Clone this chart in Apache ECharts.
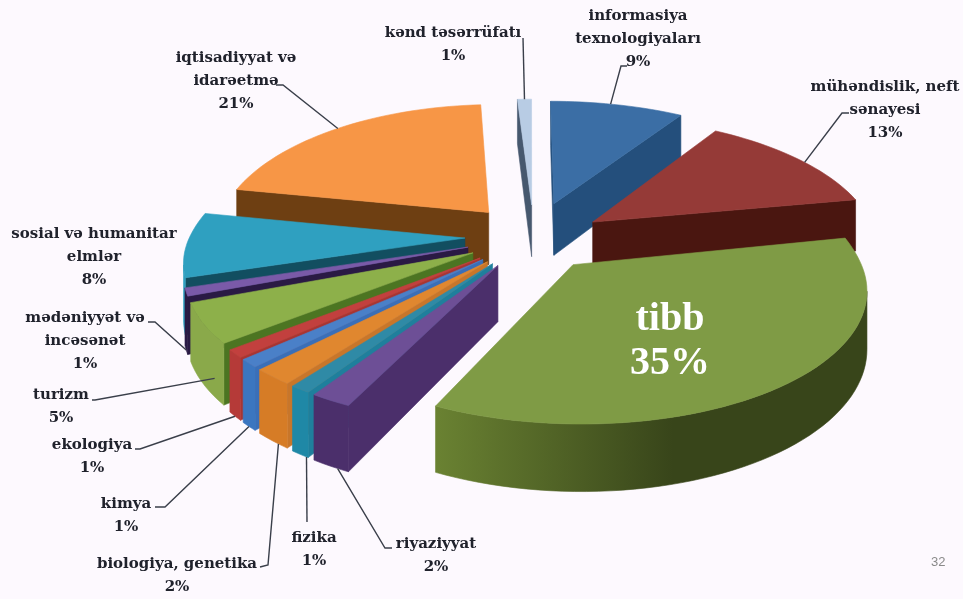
<!DOCTYPE html>
<html><head><meta charset="utf-8">
<style>html,body{margin:0;padding:0;background:#fdf9fe}#c{width:963px;height:599px}</style>
<script src="https://cdn.jsdelivr.net/npm/echarts@6/dist/echarts.min.js"></script>
</head><body><div id="c"></div>
<script>
const categories = ["informasiya\ntexnologiyaları","mühəndislik, neft\nsənayesi","tibb","riyaziyyat","fizika","biologiya, genetika","kimya","ekologiya","turizm","mədəniyyət və\nincəsənət","sosial və humanitar\nelmlər","iqtisadiyyat və\nidarəetmə","kənd təsərrüfatı"];
const values = [9,13,35,2,1,2,1,1,5,1,8,21,1];
const topColors = ["#3b6ea5","#953a37","#7f9b45","#6d4f96","#2f8aa6","#e0872f","#4a80c8","#c2403e","#8db04a","#7a5aa8","#2fa0c0","#f79646","#b8cce4"];
const radialColors = ["#244f7c","#4a1610","#4f6828","#4b2f6b","#1f7f9c","#c8762a","#3a6fb8","#a83533","#4c7522","#2a1a44","#124e60","#6e3f12","#46586e"];
const outerLeft = ["#244f7c","#4a1610","#6a8232","#4b2f6b","#1f88a6","#d67c26","#3b76c0","#b53a38","#8aa94a","#2a1a44","#2fa0c0","#6e3f12","#46586e"];
const outerRight = ["#244f7c","#4a1610","#38451a","#4b2f6b","#1f88a6","#d67c26","#3b76c0","#b53a38","#8aa94a","#2a1a44","#2fa0c0","#6e3f12","#46586e"];
const radiusScale = [1.05,1.03,1.01,1,1,1,1,1,1,1,1,1,1];
const backScale = [.92,.92,1,1,1,1,1,1,1,1,1,1,1];
const shiftX = [.02,.03,0,0,0,0,0,0,0,0,0,0,.01];
const shiftY = [.02,-.03,-.015,0,0,0,0,0,0,0,0,0,0];
const labelCenters = [[638,15],[885,86],[670,318],[436,543],[314,537],[177,563],[126,503],[92,444],[61,394],[85,317],[94,233],[236,57],[453,32]];
const leaderBends = [[[621,66],[627,66]],[[842,113],[849,113]],null,[[385,548],[392,548]],[[307,522]],[[268,565],[260,567]],[[165,507],[155,507]],[[140,449],[135,449]],[[95,400],[92,400]],[[155,322],[148,322]],null,[[283,85],[276,85]],[[523,38]]];
const leaderDepth = [0,0,0,1,1,1,1,1,.7,1,0,0,0];
const leaderFrac = [.45,.55,.5,.3,.1,.3,.5,.5,.2,.5,.5,.5,.5];

const CX=531, CY=236, R=275, RQ=135, P=0.18, H=54, EXPLODE=0.24, FRONT=0.9, D2R=Math.PI/180;
const total = values.reduce((a,b)=>a+b,0);
let acc=0;
const slices = values.map((v,i)=>{const a0=acc/total*360; acc+=v; const a1=acc/total*360; const m=(a0+a1)/2;
  return {i,a0,a1,m,r:radiusScale[i],back:backScale[i],ox:Math.sin(m*D2R)*EXPLODE+shiftX[i],oy:Math.cos(m*D2R)*EXPLODE+shiftY[i]};});
const rank={};
slices.slice().sort((a,b)=>Math.cos(b.m*D2R)-Math.cos(a.m*D2R)).forEach((s,k)=>rank[s.i]=k);
function proj(X,Y,Z){const w=1/(1+P*Y);return [CX+R*X*w, CY-RQ*Y*w+Z*H*w];}
function rim(s,a,Z){const c=Math.cos(a*D2R);return proj(s.ox+s.r*Math.sin(a*D2R),s.oy+s.r*c*(c<0?FRONT:s.back),Z);}
function area(p){let t=0;for(let k=0;k<p.length;k++){const q=p[(k+1)%p.length];t+=p[k][0]*q[1]-q[0]*p[k][1];}return t/2;}
function poly(points,fill,z2){return {type:'polygon',shape:{points},z2,style:{fill,stroke:fill,lineWidth:.6}};}

function renderItem(params){
  const s=slices[params.dataIndex], i=s.i, base=rank[i]*10+10, ch=[];
  const a0=rim(s,s.a0,0),a1=rim(s,s.a1,0),b0=rim(s,s.a0,1),b1=rim(s,s.a1,1);
  const ap=proj(s.ox,s.oy,0),bp=proj(s.ox,s.oy,1);
  const q0=[ap,a0,b0,bp], q1=[ap,bp,b1,a1];
  if(area(q0)<0) ch.push(poly(q0,radialColors[i],base));
  if(area(q1)<0) ch.push(poly(q1,radialColors[i],base));
  const n=Math.max(2,Math.ceil((s.a1-s.a0)/2));
  const arc=[];
  for(let k=0;k<=n;k++) arc.push(s.a0+(s.a1-s.a0)*k/n);
  let run=[];
  const flush=()=>{ if(!run.length) return;
    const upper=run.map(a=>rim(s,a,0)), lower=run.map(a=>rim(s,a,1)).reverse();
    const fill=new echarts.graphic.LinearGradient(0,0,1,0,[{offset:0,color:outerLeft[i]},{offset:.55,color:outerRight[i]},{offset:1,color:outerRight[i]}]);
    ch.push(poly(upper.concat(lower),fill,base+1)); run=[];};
  for(let k=0;k<n;k++){
    const q=[rim(s,arc[k],0),rim(s,arc[k+1],0),rim(s,arc[k+1],1),rim(s,arc[k],1)];
    if(area(q)<0){ if(!run.length) run.push(arc[k]); run.push(arc[k+1]); } else flush();
  }
  flush();
  const top=[ap]; arc.forEach(a=>top.push(rim(s,a,0)));
  ch.push(poly(top,topColors[i],base+2));
  const bends=leaderBends[i];
  if(bends){
    const st=rim(s,s.a0+(s.a1-s.a0)*leaderFrac[i],leaderDepth[i]);
    ch.push({type:'polyline',shape:{points:[st].concat(bends)},z2:500,style:{fill:null,stroke:'#3a3f4a',lineWidth:1.4}});
  }
  const big=categories[i]==='tibb';
  ch.push({type:'text',z2:600,style:{
    text:categories[i]+'\n'+values[i]+'%',
    x:labelCenters[i][0], y:labelCenters[i][1]-(big?20:10),
    align:'center', verticalAlign:'top',
    fontFamily:big?'"Liberation Serif"':'"DejaVu Serif"', fontWeight:'bold',
    fontSize:big?40:15, lineHeight:big?44:23,
    fill:big?'#ffffff':'#20222c'
  }});
  return {type:'group',children:ch};
}
const chart=echarts.init(document.getElementById('c'),null,{renderer:'canvas'});
chart.setOption({
  animation:false,
  backgroundColor:'#fdf9fe',
  graphic:[{type:'text',left:931,top:556,style:{text:'32',fontFamily:'"Liberation Sans"',fontSize:13,fill:'#8a8a8a'}}],
  series:[{type:'custom',coordinateSystem:'none',silent:true,renderItem,data:values}]
});
</script></body></html>
